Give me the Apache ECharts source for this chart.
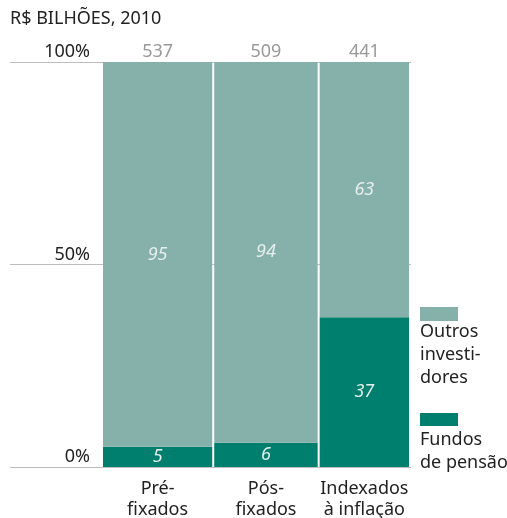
<!DOCTYPE html>
<html>
<head>
<meta charset="utf-8">
<script src="https://cdn.jsdelivr.net/npm/echarts@6/dist/echarts.min.js"></script>
<style>
  html, body { margin: 0; padding: 0; background: #fff; }
  #chart { width: 507px; height: 518px; }
</style>
</head>
<body>
<div id="chart"></div>
<script>
// dados (R$ bilhões, 2010)
const categories = ['Pré-\nfixados', 'Pós-\nfixados', 'Indexados\nà inflação'];
const totals = [537, 509, 441];
const pensionShare = [5, 6, 37];   // Fundos de pensão (%)
const otherShare = [95, 94, 63];   // Outros investidores (%)
const yTicks = [0, 50, 100];

const LIGHT = '#86b1ab';
const DARK = '#007f6e';
const FONT = '"Noto Sans", sans-serif';
const GAP = 2;

// colunas com largura proporcional ao total
let acc = 0;
const starts = [], ends = [];
totals.forEach(t => { starts.push(acc); acc += t; ends.push(acc); });
const sumTotal = acc;

// eixo x estendido à esquerda para a linha de grade começar em x=10
const plotLeft = 10, barLeft = 103, plotRight = 411;
const xMin = -(barLeft - plotLeft) * sumTotal / (plotRight - barLeft);

const pensionData = totals.map((t, i) => [starts[i], ends[i], 0, pensionShare[i]]);
const otherData = totals.map((t, i) => [starts[i], ends[i], pensionShare[i], pensionShare[i] + otherShare[i]]);
const labelData = totals.map((t, i) => [starts[i], ends[i], t, categories[i]]);

function segment(color) {
  return function (params, api) {
    const p0 = api.coord([api.value(0), api.value(3)]);
    const p1 = api.coord([api.value(1), api.value(2)]);
    const w = p1[0] - p0[0] - GAP;
    const h = p1[1] - p0[1];
    return {
      type: 'group',
      children: [
        { type: 'rect', shape: { x: p0[0], y: p0[1], width: w, height: h }, style: { fill: color } },
        {
          type: 'text',
          style: {
            text: String(api.value(3) - api.value(2)),
            x: p0[0] + w / 2, y: p0[1] + h / 2,
            align: 'center', verticalAlign: 'middle',
            font: 'italic 18px ' + FONT, fill: '#e6efed'
          }
        }
      ]
    };
  };
}

const chart = echarts.init(document.getElementById('chart'));
chart.setOption({
  animation: false,
  title: {
    text: 'R$ BILHÕES, 2010',
    left: 10, top: 10, padding: 0,
    textStyle: { fontFamily: FONT, fontSize: 18, fontWeight: 'normal', color: '#222' }
  },
  grid: { left: plotLeft, right: 507 - plotRight, top: 62, bottom: 51, containLabel: false },
  xAxis: { type: 'value', min: xMin, max: sumTotal, show: false },
  yAxis: {
    type: 'value', min: 0, max: 100, interval: 50,
    axisLine: { show: false }, axisTick: { show: false },
    splitLine: { lineStyle: { color: '#bdbdbd', width: 1 } },
    axisLabel: {
      inside: true, margin: 80, align: 'right', verticalAlign: 'bottom',
      padding: [0, 0, 1, 0],
      fontFamily: FONT, fontSize: 18, color: '#222',
      formatter: v => yTicks.includes(v) ? v + '%' : ''
    }
  },
  series: [
    { type: 'custom', name: 'Fundos de pensão', data: pensionData, renderItem: segment(DARK) },
    { type: 'custom', name: 'Outros investidores', data: otherData, renderItem: segment(LIGHT) },
    {
      type: 'custom', data: labelData, silent: true,
      renderItem: function (params, api) {
        const top = api.coord([api.value(0), 100]);
        const bottom = api.coord([api.value(1), 0]);
        const cx = (top[0] + bottom[0] - GAP) / 2;
        return {
          type: 'group',
          children: [
            { type: 'text', style: { text: String(api.value(2)), x: cx, y: top[1] - 1, align: 'center', verticalAlign: 'bottom', font: '18px ' + FONT, fill: '#999' } },
            { type: 'text', style: { text: categories[params.dataIndex], x: cx, y: bottom[1] + 11, align: 'center', verticalAlign: 'top', font: '18px ' + FONT, lineHeight: 21, fill: '#222' } }
          ]
        };
      }
    }
  ],
  graphic: [
    { type: 'rect', left: 420, top: 307, shape: { width: 38, height: 14 }, style: { fill: LIGHT } },
    { type: 'text', left: 420, top: 320, style: { text: 'Outros\ninvesti-\ndores', font: '18px ' + FONT, lineHeight: 23, fill: '#222' } },
    { type: 'rect', left: 420, top: 413, shape: { width: 38, height: 13 }, style: { fill: DARK } },
    { type: 'text', left: 420, top: 428, style: { text: 'Fundos\nde pensão', font: '18px ' + FONT, lineHeight: 23, fill: '#222' } }
  ]
});
</script>
</body>
</html>
